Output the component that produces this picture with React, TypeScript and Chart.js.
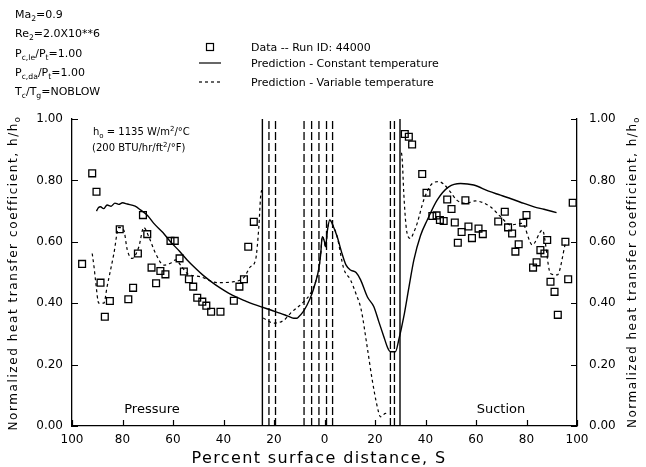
import React, { useEffect, useRef } from "react";
import { Chart, registerables } from "chart.js";

Chart.register(...registerables);

// S: percent surface distance (pressure side negative), h/h0
const measuredPressure: [number, number][] = [
  [-96, 0.528], [-92, 0.823], [-90.3, 0.763], [-88.7, 0.467], [-87, 0.356], [-85, 0.407],
  [-81.1, 0.641], [-77.7, 0.413], [-75.8, 0.45], [-73.9, 0.562], [-71.9, 0.687], [-70.2, 0.625],
  [-68.5, 0.516], [-66.7, 0.465], [-65, 0.505], [-63, 0.494], [-61, 0.603], [-59.3, 0.603],
  [-57.4, 0.546], [-55.7, 0.503], [-53.7, 0.478], [-52, 0.454], [-50.4, 0.418], [-48.4, 0.405],
  [-46.8, 0.392], [-44.9, 0.372], [-41.2, 0.372], [-35.9, 0.408], [-33.7, 0.454], [-31.9, 0.478],
  [-30.2, 0.584], [-28, 0.665],
];

const measuredSuction: [number, number][] = [
  [31.8, 0.951], [33.4, 0.942], [34.7, 0.917], [38.7, 0.821], [40.4, 0.76], [42.7, 0.684],
  [44.4, 0.686], [45.7, 0.671], [47.2, 0.668], [48.6, 0.738], [50.3, 0.707], [51.6, 0.663],
  [52.8, 0.597], [54.3, 0.632], [55.8, 0.735], [57, 0.65], [58.4, 0.612], [61, 0.643],
  [62.7, 0.625], [68.8, 0.666], [71.4, 0.698], [72.7, 0.647], [74.3, 0.627], [75.6, 0.568],
  [76.9, 0.592], [78.7, 0.662], [80, 0.687], [82.6, 0.516], [84, 0.533], [85.5, 0.573],
  [87.1, 0.562], [88.2, 0.606], [89.5, 0.47], [91.1, 0.437], [92.4, 0.362], [95.4, 0.6],
  [96.5, 0.478], [98.3, 0.727],
];

const constantTemp: [number, number][] = [
  [-90.3, 0.7], [-89.5, 0.712], [-88.7, 0.714], [-87.5, 0.708], [-86.1, 0.72], [-84.5, 0.716],
  [-83, 0.726], [-81.5, 0.722], [-80, 0.727], [-78.1, 0.723], [-75, 0.716], [-72.9, 0.704],
  [-70, 0.685], [-67.6, 0.66], [-64, 0.63], [-61, 0.6], [-57.5, 0.57], [-54.4, 0.541],
  [-51, 0.513], [-47.8, 0.489], [-44.5, 0.468], [-41.2, 0.449], [-38, 0.433], [-34.6, 0.419],
  [-31, 0.406], [-29.3, 0.4], [-25.3, 0.389], [-21, 0.377], [-17.4, 0.367], [-14.5, 0.358],
  [-12.2, 0.351], [-11, 0.351], [-10.2, 0.356], [-8.5, 0.372], [-6.9, 0.394], [-4.9, 0.432],
  [-3.5, 0.47], [-2.3, 0.51], [-1.5, 0.56], [-0.9, 0.617], [0, 0.6], [0.4, 0.584],
  [1.2, 0.64], [2.1, 0.671], [3.5, 0.65], [5, 0.617], [7, 0.56], [8.5, 0.525], [10.3, 0.508],
  [12.5, 0.5], [14.3, 0.476], [17, 0.42], [19.5, 0.389], [21.5, 0.34], [23.5, 0.291],
  [25, 0.255], [26.1, 0.242], [28.1, 0.242], [29.4, 0.28], [31.4, 0.356], [33.4, 0.45],
  [35.4, 0.541], [38, 0.62], [40.7, 0.671], [44.6, 0.736], [49.2, 0.779], [53.9, 0.79],
  [59.1, 0.785], [65, 0.765], [69.7, 0.752], [75, 0.737], [79, 0.725], [83, 0.714],
  [86.9, 0.706], [91.9, 0.695],
];

const variableTempPressure: [number, number][] = [
  [-92, 0.562], [-91.3, 0.52], [-90.7, 0.476], [-89.4, 0.4], [-87.4, 0.4], [-86.1, 0.454],
  [-83.4, 0.562], [-81.5, 0.647], [-79.5, 0.638], [-78.1, 0.573], [-76.2, 0.546], [-73.5, 0.584],
  [-71.6, 0.647], [-69.6, 0.617], [-66.9, 0.562], [-63.6, 0.524], [-61, 0.53], [-59, 0.541],
  [-57, 0.524], [-54.4, 0.497], [-49.1, 0.486], [-42.5, 0.467], [-35.9, 0.47], [-31.9, 0.484],
  [-29.3, 0.519], [-27.3, 0.541], [-26, 0.649], [-25.3, 0.747], [-24.7, 0.774],
];

const variableTempLeadingEdge: [number, number][] = [
  [-24.3, 0.352], [-20, 0.335], [-16, 0.345], [-13.5, 0.367], [-8.2, 0.405], [-5.5, 0.432],
  [-3.5, 0.47], [-2.3, 0.51], [-1.5, 0.56], [-0.9, 0.617], [0, 0.6], [0.4, 0.584],
  [1.2, 0.64], [2.1, 0.671], [3.5, 0.65], [5, 0.617], [7.6, 0.513], [10.3, 0.476],
  [12.5, 0.43], [14.5, 0.38], [16.9, 0.258], [18.9, 0.15], [20.9, 0.063], [22.2, 0.03],
  [24.2, 0.041], [25.5, 0.036],
];

const variableTempSuction: [number, number][] = [
  [30.5, 0.89], [30.8, 0.866], [31.4, 0.758], [32.2, 0.66], [32.7, 0.628], [34.1, 0.611],
  [35.3, 0.63], [36.7, 0.66], [39.3, 0.736], [42.7, 0.79], [45.3, 0.796], [47.2, 0.788],
  [49.9, 0.762], [52.5, 0.735], [55.8, 0.725], [59.8, 0.733], [65.7, 0.714], [69.7, 0.682],
  [73.7, 0.655], [78.3, 0.66], [82.3, 0.59], [86.3, 0.638], [89.5, 0.497], [92.2, 0.492],
  [95.4, 0.595],
];

const filmRowsSolid = [-24.6, 29.9];
const filmRowsDashed = [-22, -19.4, -8.1, -5.1, -2.2, 0.8, 3.2, 26.1, 27.7];

const xTickValues = [-100, -80, -60, -40, -20, 0, 20, 40, 60, 80, 100];
const yTickValues = [0, 0.2, 0.4, 0.6, 0.8, 1.0];

type Part = [string, number]; // 0 normal, 1 subscript, 2 superscript

const conditionLines: Part[][] = [
  [["Ma", 0], ["2", 1], ["=0.9", 0]],
  [["Re", 0], ["2", 1], ["=2.0X10**6", 0]],
  [["P", 0], ["c,le", 1], ["/P", 0], ["t", 1], ["=1.00", 0]],
  [["P", 0], ["c,da", 1], ["/P", 0], ["t", 1], ["=1.00", 0]],
  [["T", 0], ["c", 1], ["/T", 0], ["g", 1], ["=NOBLOW", 0]],
];

const legendLabels = [
  "Data -- Run ID: 44000",
  "Prediction - Constant temperature",
  "Prediction - Variable temperature",
];

const refLines: Part[][] = [
  [["h", 0], ["o", 1], [" = 1135 W/m", 0], ["2", 2], ["/°C", 0]],
  [["(200 BTU/hr/ft", 0], ["2", 2], ["/°F)", 0]],
];

const yTitle: Part[] = [["Normalized heat transfer coefficient, h/h", 0], ["o", 1]];
const xTitle = "Percent surface distance, S";
const sideLabels = ["Pressure", "Suction"];

const FAMILY = "'DejaVu Sans'";

function measureParts(ctx: CanvasRenderingContext2D, parts: Part[], size: number, spacing: number) {
  let w = 0;
  ctx.letterSpacing = "0px";
  for (const [t, k] of parts) {
    const fs = k ? size * 0.7 : size;
    ctx.font = `${fs}px ${FAMILY}`;
    w += ctx.measureText(t).width + spacing * t.length;
  }
  return w;
}

function drawParts(ctx: CanvasRenderingContext2D, parts: Part[], x: number, y: number, size: number, spacing = 0) {
  let cx = x;
  ctx.textAlign = "left";
  for (const [t, k] of parts) {
    const fs = k ? size * 0.7 : size;
    ctx.font = `${fs}px ${FAMILY}`;
    ctx.letterSpacing = "0px";
    const adv = ctx.measureText(t).width + spacing * t.length;
    ctx.letterSpacing = `${spacing}px`;
    const dy = k === 1 ? size * 0.3 : k === 2 ? -size * 0.4 : 0;
    ctx.fillText(t, cx, y + dy);
    cx += adv;
  }
  ctx.letterSpacing = "0px";
  return cx - x;
}

function drawFitted(ctx: CanvasRenderingContext2D, parts: Part[], cx: number, cy: number, size: number, target: number, rotate: boolean) {
  const n = parts.reduce((a, p) => a + p[0].length, 0);
  const w0 = measureParts(ctx, parts, size, 0);
  const sp = (target - w0) / n;
  const w = measureParts(ctx, parts, size, sp);
  ctx.save();
  ctx.translate(cx, cy);
  if (rotate) ctx.rotate(-Math.PI / 2);
  ctx.textBaseline = "middle";
  drawParts(ctx, parts, -w / 2, 0, size, sp);
  ctx.restore();
}

const decorPlugin = {
  id: "decor",
  afterDraw(chart: any) {
    const ctx: CanvasRenderingContext2D = chart.ctx;
    const xs = chart.scales.x;
    const yl = chart.scales.y;
    const area = chart.chartArea;
    ctx.save();
    ctx.strokeStyle = "#000";
    ctx.fillStyle = "#000";
    ctx.lineWidth = 1.2;
    // inward tick marks
    ctx.beginPath();
    for (const v of yTickValues) {
      const py = Math.round(yl.getPixelForValue(v)) + 0.5;
      ctx.moveTo(area.left, py);
      ctx.lineTo(area.left + 6, py);
      ctx.moveTo(area.right, py);
      ctx.lineTo(area.right - 6, py);
    }
    for (const v of xTickValues) {
      const px = Math.round(xs.getPixelForValue(v)) + 0.5;
      ctx.moveTo(px, area.bottom);
      ctx.lineTo(px, area.bottom - 6);
    }
    ctx.stroke();

    // condition text block
    ctx.textBaseline = "alphabetic";
    const baseY = [18, 37, 57, 76, 95];
    conditionLines.forEach((parts, i) => drawParts(ctx, parts, 15, baseY[i], 11));

    // legend
    ctx.lineWidth = 1.2;
    ctx.strokeRect(206.5, 43.5, 7, 7);
    ctx.beginPath();
    ctx.moveTo(199, 63);
    ctx.lineTo(221, 63);
    ctx.stroke();
    ctx.setLineDash([3, 3]);
    ctx.beginPath();
    ctx.moveTo(199, 82);
    ctx.lineTo(221, 82);
    ctx.stroke();
    ctx.setLineDash([]);
    const legY = [51, 67, 86];
    legendLabels.forEach((t, i) => drawParts(ctx, [[t, 0]], 251, legY[i], 11));

    // reference value
    drawParts(ctx, refLines[0], 93, 135, 10);
    drawParts(ctx, refLines[1], 92, 151, 10);

    // side labels
    ctx.font = `13px ${FAMILY}`;
    ctx.textAlign = "center";
    ctx.textBaseline = "middle";
    ctx.fillText(sideLabels[0], 152, 410);
    ctx.fillText(sideLabels[1], 501, 410);

    // axis titles
    drawFitted(ctx, yTitle, 14, 273, 12, 315, true);
    drawFitted(ctx, yTitle, 633, 272, 12, 312, true);
    drawFitted(ctx, [[xTitle, 0]], 319, 459, 16, 255, false);
    ctx.restore();
  },
};

export default function App() {
  const ref = useRef<HTMLCanvasElement>(null);
  useEffect(() => {
    if (!ref.current) return;
    const toPts = (a: [number, number][]) => a.map(([x, y]) => ({ x, y }));
    const lineBase = {
      showLine: true,
      pointRadius: 0,
      borderColor: "#000",
      backgroundColor: "#000",
      fill: false,
    };
    const datasets: any[] = [];
    filmRowsSolid.forEach((s) =>
      datasets.push({ ...lineBase, data: [{ x: s, y: 0 }, { x: s, y: 1 }], borderWidth: 1.4 })
    );
    filmRowsDashed.forEach((s) =>
      datasets.push({ ...lineBase, data: [{ x: s, y: 0 }, { x: s, y: 1 }], borderWidth: 1.3, borderDash: [8, 3] })
    );
    datasets.push({ ...lineBase, data: toPts(constantTemp), borderWidth: 1.4, cubicInterpolationMode: "monotone" });
    [variableTempPressure, variableTempLeadingEdge, variableTempSuction].forEach((seg) =>
      datasets.push({ ...lineBase, data: toPts(seg), borderWidth: 1.2, borderDash: [3, 3], cubicInterpolationMode: "monotone" })
    );
    datasets.push({
      data: toPts([...measuredPressure, ...measuredSuction]),
      showLine: false,
      pointStyle: "rect",
      pointRadius: 4.8,
      pointBorderWidth: 1.3,
      pointBorderColor: "#000",
      pointBackgroundColor: "rgba(0,0,0,0)",
    });

    Chart.defaults.font.family = "'DejaVu Sans'";
    Chart.defaults.color = "#000";
    const chart = new Chart(ref.current, {
      type: "scatter",
      data: { datasets },
      plugins: [decorPlugin],
      options: {
        animation: false,
        responsive: false,
        layout: { padding: { top: 119, left: 0, right: 0, bottom: 0 } },
        plugins: { legend: { display: false }, tooltip: { enabled: false } },
        scales: {
          x: {
            type: "linear",
            min: -100,
            max: 100,
            afterFit: (s: any) => { s.height = 41; },
            afterBuildTicks: (s: any) => { s.ticks = xTickValues.map((v) => ({ value: v })); },
            ticks: {
              callback: (v: any) => String(Math.abs(Number(v))),
              font: { size: 12 },
              color: "#000",
              padding: 7,
              maxRotation: 0,
            },
            grid: { display: true, drawOnChartArea: false, drawTicks: false },
            border: { display: true, color: "#000", width: 1.3 },
          },
          y: {
            type: "linear",
            position: "left",
            min: 0,
            max: 1,
            afterFit: (s: any) => { s.width = 72; },
            afterBuildTicks: (s: any) => { s.ticks = yTickValues.map((v) => ({ value: v })); },
            ticks: { callback: (v: any) => Number(v).toFixed(2), font: { size: 12 }, color: "#000", padding: 9 },
            grid: { display: true, drawOnChartArea: false, drawTicks: false },
            border: { display: true, color: "#000", width: 1.3 },
          },
          y2: {
            type: "linear",
            position: "right",
            min: 0,
            max: 1,
            afterFit: (s: any) => { s.width = 69; },
            afterBuildTicks: (s: any) => { s.ticks = yTickValues.map((v) => ({ value: v })); },
            ticks: { callback: (v: any) => Number(v).toFixed(2), font: { size: 12 }, color: "#000", padding: 12 },
            grid: { display: true, drawOnChartArea: false, drawTicks: false },
            border: { display: true, color: "#000", width: 1.3 },
          },
        },
      } as any,
    });
    return () => chart.destroy();
  }, []);
  return (
    <div style={{ position: "absolute", left: 0, top: 0, width: 646, height: 467, background: "#fff" }}>
      <canvas ref={ref} width={646} height={467} style={{ width: 646, height: 467, display: "block" }} />
    </div>
  );
}
